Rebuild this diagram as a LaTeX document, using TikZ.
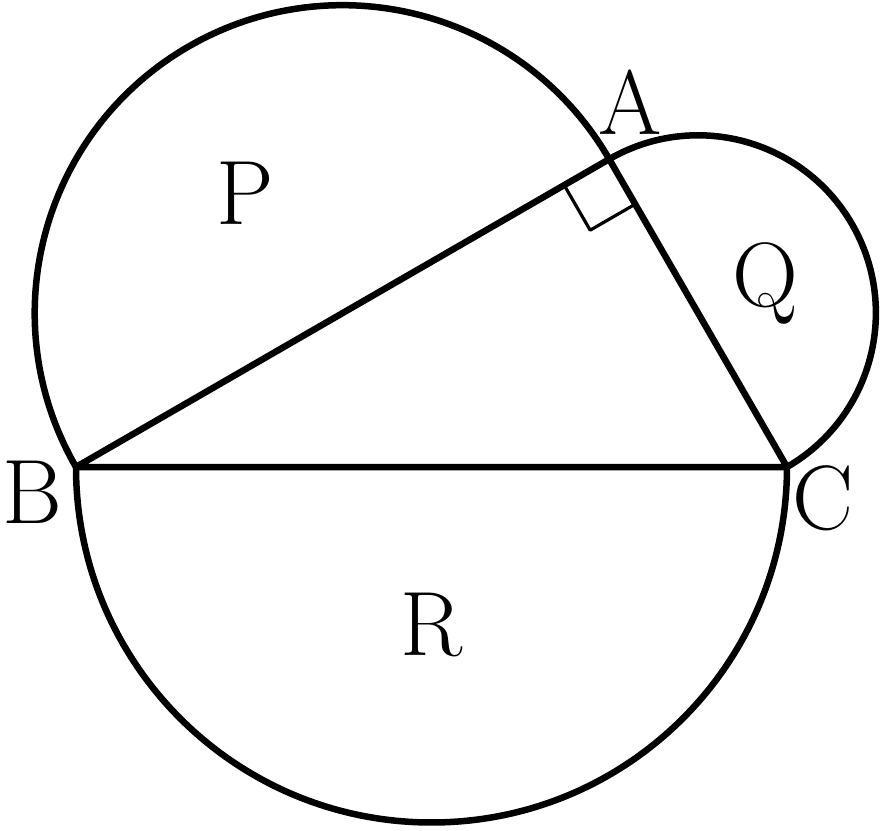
\documentclass[tikz,border=0pt]{standalone}
\usepackage{amsmath, amssymb}
\usetikzlibrary{calc, positioning}

\begin{document}
\begin{tikzpicture}[line width=1.85pt, line join=round,
    lbl/.style={font=\fontsize{26}{31}\selectfont, inner sep=0pt}]
      \useasboundingbox (0,0) rectangle (8.82,-8.31);
      % vertices of the triangle
      \coordinate (B) at (0.76,-4.67);
      \coordinate (C) at (7.87,-4.67);
      \coordinate (A) at ($(B)+(30:6.157)$);
      % semicircles on the three sides
      \draw (C) arc[start angle=0, end angle=-180, radius=3.555];
      \draw (A) arc[start angle=30, end angle=210, radius=3.0785];
      \draw (C) arc[start angle=-60, end angle=120, radius=1.7775];
      \draw (B) -- (C) -- (A) -- cycle;
      % right angle at A
      \coordinate (rB) at ($(A)!0.52cm!(B)$);
      \coordinate (rC) at ($(A)!0.52cm!(C)$);
      \draw[line width=0.9pt] (rB) -- ($(rB)+(rC)-(A)$) -- (rC);
      \node[lbl] (labA) at (6.30,-1.02) {A};
      \node[lbl] (labB) at (0.32,-4.92) {B};
      \node[lbl] (labC) at (8.23,-4.98) {C};
      \node[lbl] (labP) at (2.45,-1.93) {P};
      \node[lbl] (labQ) at (7.65,-2.83) {Q};
      \node[lbl] (labR) at (4.32,-6.25) {R};
    \end{tikzpicture}
\end{document}
